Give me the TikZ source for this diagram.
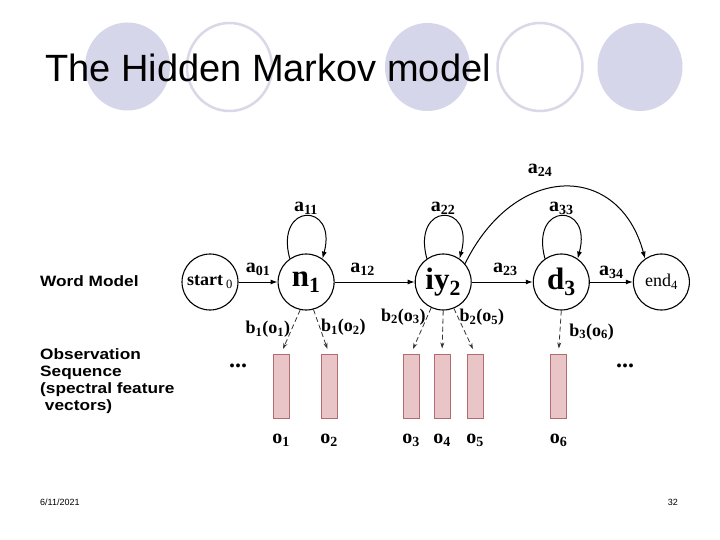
\documentclass[tikz,border=0pt]{standalone}
\usepackage{fontspec}
\setmainfont{Liberation Serif}
\setsansfont{Liberation Sans}
\newfontfamily\sidefont[FakeStretch=1.15]{Liberation Sans}
\usetikzlibrary{arrows.meta,positioning,calc}
\definecolor{hmmlav}{RGB}{214,214,234}
\definecolor{hmmring}{RGB}{216,216,232}
\definecolor{hmmpink}{RGB}{233,197,199}
\definecolor{hmmrose}{RGB}{178,108,112}

\begin{document}
\begin{tikzpicture}[x=1pt, y=1pt,
  arrow/.style={-{Latex[length=7pt,width=5pt]}, line width=1pt},
  emit/.style={-{Stealth[length=6pt,width=4pt]}, dash pattern=on 5pt off 3pt,
               line width=0.8pt, shorten >=5pt, draw=black!80},
  state/.style={circle, draw, line width=1.1pt, minimum size=56pt, inner sep=0pt,
                font=\fontsize{31}{31}\selectfont\bfseries},
  frame/.style={rectangle, draw=hmmrose, fill=hmmpink, line width=1pt,
                minimum width=16pt, minimum height=64pt, inner sep=0pt},
  lbl/.style={font=\fontsize{20}{20}\selectfont\bfseries, inner sep=1pt},
  blbl/.style={font=\fontsize{18}{18}\selectfont\bfseries, inner sep=1pt},
  side/.style={font=\sidefont\fontsize{15}{17}\selectfont\bfseries,
               anchor=west, align=left, inner sep=0pt},
  disc/.style={fill=hmmlav},
  ring/.style={draw=hmmring, line width=2.5pt}
]
\useasboundingbox (0,0) rectangle (720,-540);
\fill[white] (0,0) rectangle (720,-540);

% --- Title bubbles ---
\fill[disc] (127.5,-66.5) ellipse [x radius=42.5, y radius=44];
\draw[ring] (229.5,-67) ellipse [x radius=42.5, y radius=44];
\fill[disc] (427.5,-67) ellipse [x radius=42.5, y radius=44];
\draw[ring] (540,-67) ellipse [x radius=42.5, y radius=44];
\fill[disc] (640,-67) ellipse [x radius=42.5, y radius=44];
\node[anchor=base west, inner sep=0pt, font=\sffamily\fontsize{38}{40}\selectfont]
  (title) at (45,-82) {The Hidden Markov model};

% --- Side labels ---
\node[side] (wm) at (40,-281) {Word Model};
\node[side] (obs) at (40,-381) {Observation\\Sequence\\(spectral feature\\\ vectors)};

% --- States ---
\node[state] (s0) at (210,-282) {\fontsize{18}{18}\selectfont start\,\textsubscript{\mdseries 0}};
\node[state, right=39pt of s0] (n1) {n\textsubscript{1}};
\node[state, right=80pt of n1] (iy2) {iy\textsubscript{2}};
\node[state, right=61pt of iy2] (d3) {d\textsubscript{3}};
\node[state, right=43pt of d3] (end4) {\fontsize{18}{18}\selectfont\mdseries end\textsubscript{4}};

% --- Transitions ---
\draw[arrow] (s0) -- node[lbl, above=5pt] (a01) {a\textsubscript{01}} (n1);
\draw[arrow] (n1) -- node[lbl, above=5pt, pos=0.35] (a12) {a\textsubscript{12}} (iy2);
\draw[arrow] (iy2) -- node[lbl, above=5pt, pos=0.55] (a23) {a\textsubscript{23}} (d3);
\draw[arrow] (d3) -- node[lbl, above=2pt] (a34) {a\textsubscript{34}} (end4);
\draw[arrow] (n1.125) to[out=105, in=75, looseness=4.6] node[lbl, above] (a11) {a\textsubscript{11}} (n1.55);
\draw[arrow] (iy2.125) to[out=105, in=75, looseness=4.6] node[lbl, above] (a22) {a\textsubscript{22}} (iy2.55);
\draw[arrow] (d3.125) to[out=105, in=75, looseness=4.6] node[lbl, above] (a33) {a\textsubscript{33}} (d3.55);
\draw[arrow] (iy2.40) .. controls (515,-162) and (619,-162) .. (end4.125);
\node[lbl] (a24) at (540,-170) {a\textsubscript{24}};

% --- Observation frames ---
\node[frame] (o1) at (281,-386) {};
\node[frame] (o2) at (329,-386) {};
\node[frame] (o3) at (411,-386) {};
\node[frame] (o4) at (442,-386) {};
\node[frame] (o5) at (475,-386) {};
\node[frame] (o6) at (558.5,-386) {};
\node[lbl, below=14pt of o1] (o1t) {o\textsubscript{1}};
\node[lbl, below=14pt of o2] (o2t) {o\textsubscript{2}};
\node[lbl, below=14pt of o3] (o3t) {o\textsubscript{3}};
\node[lbl, below=14pt of o4] (o4t) {o\textsubscript{4}};
\node[lbl, below=14pt of o5] (o5t) {o\textsubscript{5}};
\node[lbl, below=14pt of o6] (o6t) {o\textsubscript{6}};
\node[lbl, font=\fontsize{24}{24}\selectfont\bfseries] (dotsl) at (238,-366) {...};
\node[lbl, font=\fontsize{24}{24}\selectfont\bfseries] (dotsr) at (625,-366) {...};

% --- Emissions ---
\draw[emit] (n1.258) -- node[blbl, left, pos=0.45] (b11) {b\textsubscript{1}(o\textsubscript{1})} (o1.north);
\draw[emit] (n1.285) -- node[blbl, right, pos=0.4] (b12) {b\textsubscript{1}(o\textsubscript{2})} (o2.north);
\draw[emit] (iy2.245) -- node[blbl, left, pos=0.2] (b23) {b\textsubscript{2}(o\textsubscript{3})} (o3.north);
\draw[emit] (iy2.270) -- (o4.north);
\draw[emit] (iy2.292) -- node[blbl, right, pos=0.2] (b25) {b\textsubscript{2}(o\textsubscript{5})} (o5.north);
\draw[emit] (d3.270) -- node[blbl, right=8pt, pos=0.5] (b36) {b\textsubscript{3}(o\textsubscript{6})} (o6.north);

% --- Footer ---
\node[anchor=base west, inner sep=0pt, font=\sffamily\fontsize{9}{9}\selectfont] (date) at (40,-505) {6/11/2021};
\node[anchor=base east, inner sep=0pt, font=\sffamily\fontsize{9}{9}\selectfont] (page) at (678,-505) {32};

\end{tikzpicture}
\end{document}
